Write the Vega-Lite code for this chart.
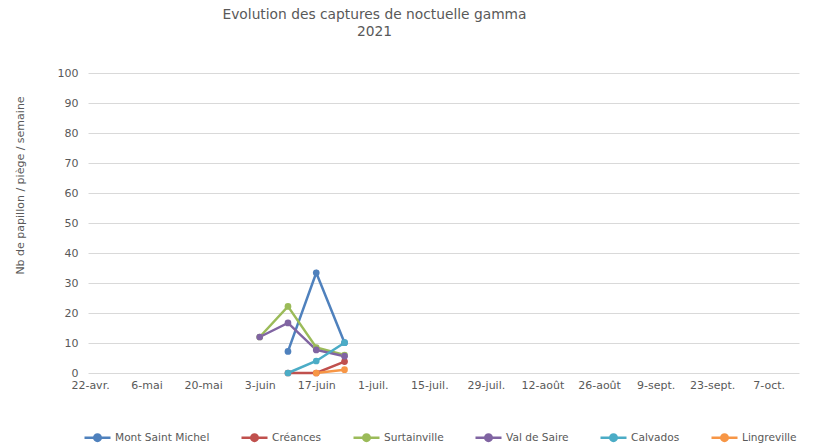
{
  "$schema": "https://vega.github.io/schema/vega-lite/v6.json",
  "width": 711,
  "height": 300,
  "autosize": {"type": "none"},
  "padding": {"left": 88, "top": 73, "right": 14, "bottom": 72},
  "background": "white",
  "config": {
    "view": {"stroke": null},
    "font": "DejaVu Sans",
    "locale": {
      "time": {
        "dateTime": "%A %e %B %Y à %X",
        "date": "%d/%m/%Y",
        "time": "%H:%M:%S",
        "periods": ["AM", "PM"],
        "days": ["dimanche", "lundi", "mardi", "mercredi", "jeudi", "vendredi", "samedi"],
        "shortDays": ["dim.", "lun.", "mar.", "mer.", "jeu.", "ven.", "sam."],
        "months": ["janvier", "février", "mars", "avril", "mai", "juin", "juillet", "août", "septembre", "octobre", "novembre", "décembre"],
        "shortMonths": ["janv.", "févr.", "mars", "avr.", "mai", "juin", "juil.", "août", "sept.", "oct.", "nov.", "déc."]
      }
    }
  },
  "title": {
    "text": ["Evolution des captures de noctuelle gamma", "2021"],
    "fontSize": 13.8,
    "fontWeight": "normal",
    "color": "#595959",
    "anchor": "middle",
    "dx": -69,
    "offset": 28,
    "lineHeight": 17,
    "font": "DejaVu Sans"
  },
  "data": {
    "values": [
      {"site": "Mont Saint Michel", "date": "2021-06-10", "n": 7.2},
      {"site": "Mont Saint Michel", "date": "2021-06-17", "n": 33.4},
      {"site": "Mont Saint Michel", "date": "2021-06-24", "n": 10.1},
      {"site": "Créances", "date": "2021-06-10", "n": 0},
      {"site": "Créances", "date": "2021-06-17", "n": 0},
      {"site": "Créances", "date": "2021-06-24", "n": 3.8},
      {"site": "Surtainville", "date": "2021-06-03", "n": 12},
      {"site": "Surtainville", "date": "2021-06-10", "n": 22.2},
      {"site": "Surtainville", "date": "2021-06-17", "n": 8.5},
      {"site": "Surtainville", "date": "2021-06-24", "n": 6},
      {"site": "Val de Saire", "date": "2021-06-03", "n": 12},
      {"site": "Val de Saire", "date": "2021-06-10", "n": 16.7},
      {"site": "Val de Saire", "date": "2021-06-17", "n": 7.7},
      {"site": "Val de Saire", "date": "2021-06-24", "n": 5.6},
      {"site": "Calvados", "date": "2021-06-10", "n": 0},
      {"site": "Calvados", "date": "2021-06-17", "n": 4},
      {"site": "Calvados", "date": "2021-06-24", "n": 10.1},
      {"site": "Lingreville", "date": "2021-06-17", "n": 0},
      {"site": "Lingreville", "date": "2021-06-24", "n": 1.1}
    ]
  },
  "encoding": {
    "x": {
      "field": "date",
      "type": "temporal",
      "timeUnit": "utcyearmonthdate",
      "scale": {"domain": [
        {"year": 2021, "month": 4, "date": 21, "hours": 12, "utc": true},
        {"year": 2021, "month": 10, "date": 14, "hours": 12, "utc": true}
      ]},
      "axis": {
        "title": null,
        "grid": false,
        "domain": false,
        "ticks": false,
        "labelFlush": false,
        "labelAngle": 0,
        "labelPadding": 6,
        "labelFontSize": 11,
        "labelColor": "#595959",
        "format": "%-d-%b",
        "values": [
          {"year": 2021, "month": 4, "date": 22, "utc": true},
          {"year": 2021, "month": 5, "date": 6, "utc": true},
          {"year": 2021, "month": 5, "date": 20, "utc": true},
          {"year": 2021, "month": 6, "date": 3, "utc": true},
          {"year": 2021, "month": 6, "date": 17, "utc": true},
          {"year": 2021, "month": 7, "date": 1, "utc": true},
          {"year": 2021, "month": 7, "date": 15, "utc": true},
          {"year": 2021, "month": 7, "date": 29, "utc": true},
          {"year": 2021, "month": 8, "date": 12, "utc": true},
          {"year": 2021, "month": 8, "date": 26, "utc": true},
          {"year": 2021, "month": 9, "date": 9, "utc": true},
          {"year": 2021, "month": 9, "date": 23, "utc": true},
          {"year": 2021, "month": 10, "date": 7, "utc": true}
        ]
      }
    },
    "y": {
      "field": "n",
      "type": "quantitative",
      "scale": {"domain": [0, 100]},
      "axis": {
        "title": "Nb de papillon / piège / semaine",
        "values": [0, 10, 20, 30, 40, 50, 60, 70, 80, 90, 100],
        "grid": true,
        "gridColor": "#d9d9d9",
        "domain": false,
        "ticks": false,
        "labelPadding": 10,
        "labelFontSize": 11,
        "labelColor": "#595959",
        "titleColor": "#595959",
        "titleFontSize": 11,
        "titleFontWeight": "normal",
        "titlePadding": 32,
        "titleY": 112
      }
    },
    "color": {
      "field": "site",
      "type": "nominal",
      "scale": {
        "domain": ["Mont Saint Michel", "Créances", "Surtainville", "Val de Saire", "Calvados", "Lingreville"],
        "range": ["#4F81BD", "#C0504D", "#9BBB59", "#8064A2", "#4BACC6", "#F79646"]
      },
      "legend": {
        "title": null,
        "orient": "none",
        "legendX": -5,
        "legendY": 350,
        "direction": "horizontal",
        "columns": 6,
        "symbolType": "M-1,0L1,0M-0.25,0A0.25,0.25,0,1,1,0.25,0A0.25,0.25,0,1,1,-0.25,0Z",
        "symbolSize": 676,
        "symbolStrokeWidth": 2.5,
        "labelFontSize": 10.6,
        "labelColor": "#595959",
        "labelOffset": 3,
        "columnPadding": 26
      }
    }
  },
  "layer": [
    {"mark": {"type": "line", "strokeWidth": 2.5}},
    {"mark": {"type": "point", "filled": true, "size": 45, "opacity": 1}}
  ]
}
